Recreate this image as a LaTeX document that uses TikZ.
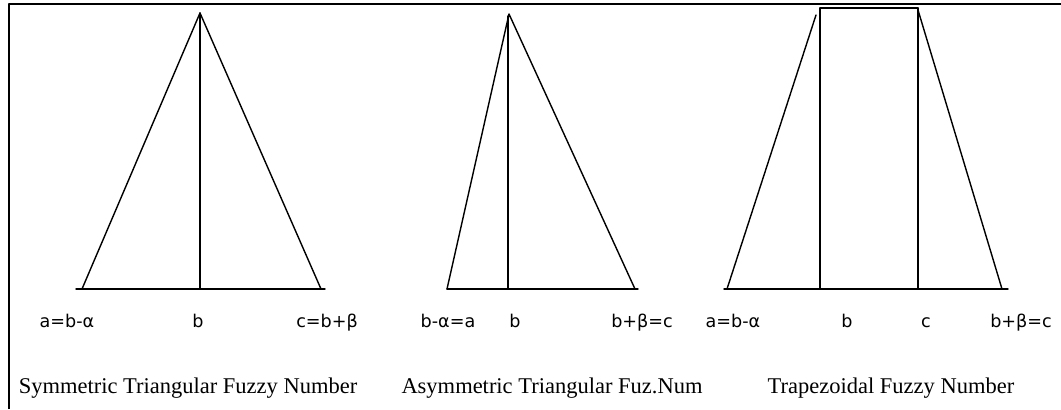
\documentclass[tikz,border=0pt]{standalone}
\usepackage{fontspec}
\setmainfont{Liberation Serif}
\newfontfamily\etiq{DejaVu Sans}
\begin{document}
\begin{tikzpicture}[x=0.025cm, y=-0.025cm, line width=1pt, line cap=round, line join=round,
  lbl/.style={font=\etiq\fontsize{12.5}{14}\selectfont, anchor=base, inner sep=0pt},
  ttl/.style={font=\fontsize{16}{18}\selectfont, anchor=base, inner sep=0pt}]
  \useasboundingbox (0,0) rectangle (1061,409);
  % el marco, sólo arriba y a la izquierda
  \coordinate (m-bl) at (9,409);
  \coordinate (m-tl) at (9,4);
  \coordinate (m-tr) at (1061,4);
  \draw[line width=2pt, line cap=butt] (m-bl) -- (m-tl) -- (m-tr);
  % el triángulo simétrico
  \coordinate (s-top) at (200,13);
  \coordinate (s-a) at (82,289);
  \coordinate (s-b) at (200,289);
  \coordinate (s-c) at (321,289);
  \coordinate (s-l) at (76,289);
  \coordinate (s-r) at (325,289);
  \draw (s-a) -- (s-top) -- (s-c);
  \draw (s-top) -- (s-b);
  \draw (s-l) -- (s-r);
  \node[lbl] (s-la) at (67,327) {a=b-α};
  \node[lbl] (s-lb) at (198,327) {b};
  \node[lbl] (s-lc) at (327,327) {c=b+β};
  \node[ttl] (s-name) at (188,393) {Symmetric Triangular Fuzzy Number};
  % el triángulo asimétrico
  \coordinate (as-top) at (509,14);
  \coordinate (as-v) at (508,16);
  \coordinate (as-a) at (447,289);
  \coordinate (as-b) at (508,289);
  \coordinate (as-c) at (635,289);
  \coordinate (as-r) at (638,289);
  \draw (as-a) -- (as-top) -- (as-c);
  \draw (as-v) -- (as-b);
  \draw (as-a) -- (as-r);
  \node[lbl] (as-la) at (448,327) {b-α=a};
  \node[lbl] (as-lb) at (515,327) {b};
  \node[lbl] (as-lc) at (642,327) {b+β=c};
  \node[ttl] (as-name) at (552,393) {Asymmetric Triangular Fuz.Num};
  % el trapecio
  \coordinate (t-tb) at (820,8);
  \coordinate (t-tc) at (918,8);
  \coordinate (t-b) at (820,289);
  \coordinate (t-c) at (918,289);
  \coordinate (t-sl) at (816,15);
  \coordinate (t-sr) at (918,10);
  \coordinate (t-a) at (727,289);
  \coordinate (t-d) at (1002,289);
  \coordinate (t-l) at (724,289);
  \coordinate (t-r) at (1008,289);
  \draw (t-tb) -- (t-tc);
  \draw (t-tb) -- (t-b);
  \draw (t-tc) -- (t-c);
  \draw (t-sl) -- (t-a);
  \draw (t-sr) -- (t-d);
  \draw (t-l) -- (t-r);
  \node[lbl] (t-la) at (733,327) {a=b-α};
  \node[lbl] (t-lb) at (847,327) {b};
  \node[lbl] (t-lc) at (926,327) {c};
  \node[lbl] (t-ld) at (1021,327) {b+β=c};
  \node[ttl] (t-name) at (891,393) {Trapezoidal Fuzzy Number};
\end{tikzpicture}
\end{document}
